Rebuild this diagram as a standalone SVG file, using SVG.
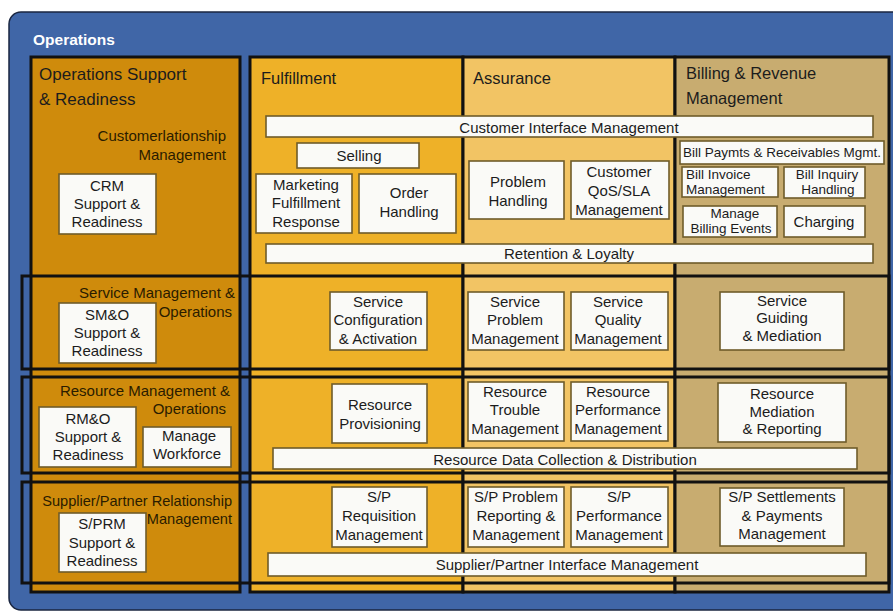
<svg xmlns="http://www.w3.org/2000/svg" width="893" height="612" viewBox="0 0 893 612">
<style>
text{font-family:"Liberation Sans",Arial,sans-serif;fill:#1c1c1c}
.hd{font-size:16.5px}
.lb{font-size:15px;fill:#2a1c00}
.bx{fill:#fafaf7;stroke:#6f5c2a;stroke-width:1.6}
.t{font-size:15px;text-anchor:middle}
.ts{font-size:13.5px}
.tc{font-size:13.5px;text-anchor:middle}
.col{stroke:#111;stroke-width:3}
.row{fill:none;stroke:#111;stroke-width:3}
</style>
<rect x="9" y="12" width="900" height="598" rx="12" fill="#4066A7" stroke="#1a2640" stroke-width="1.5"/>
<text x="33" y="45" style="font-size:15.5px;font-weight:bold;fill:#fff">Operations</text>

<g id="columns">
<rect class="col" x="31" y="57" width="209" height="535" fill="#CF8B0C"/>
<rect class="col" x="250" y="57" width="213" height="535" fill="#EEB128"/>
<rect class="col" x="463" y="57" width="212" height="535" fill="#F2C464"/>
<rect class="col" x="675" y="57" width="214" height="535" fill="#C8AC70"/>
<text class="hd" x="39" y="80" style="font-size:17px">Operations Support</text>
<text class="hd" x="39" y="105" style="font-size:17px">&amp; Readiness</text>
<text class="hd" x="261" y="84">Fulfillment</text>
<text class="hd" x="473" y="84">Assurance</text>
<text class="hd" x="686" y="79">Billing &amp; Revenue</text>
<text class="hd" x="686" y="104">Management</text>
</g>

<g id="rows">
<rect class="row" x="22" y="276" width="867" height="93"/>
<rect class="row" x="22" y="377" width="867" height="96"/>
<rect class="row" x="22" y="482" width="867" height="101"/>
<text class="lb" x="226" y="141" text-anchor="end">Customerlationship</text>
<text class="lb" x="226" y="160" text-anchor="end">Management</text>
<text class="lb" x="235" y="298" text-anchor="end">Service Management &amp;</text>
<text class="lb" x="232" y="317" text-anchor="end">Operations</text>
<text class="lb" x="230" y="396" text-anchor="end">Resource Management &amp;</text>
<text class="lb" x="226" y="414" text-anchor="end">Operations</text>
<text class="lb" x="232" y="506" text-anchor="end" style="font-size:14.6px">Supplier/Partner Relationship</text>
<text class="lb" x="232" y="524" text-anchor="end" style="font-size:14.6px">Management</text>
</g>

<g id="connectors"/>

<g id="crm-support"><rect class="bx" x="59" y="174" width="97" height="60"/>
<text class="t" x="107" y="191">CRM</text><text class="t" x="107" y="209">Support &amp;</text><text class="t" x="107" y="227">Readiness</text></g>

<g id="cim"><rect class="bx" x="266" y="116" width="607" height="21"/>
<text class="t" x="569" y="133">Customer Interface Management</text></g>

<g id="selling"><rect class="bx" x="297" y="143" width="122" height="25"/>
<text class="t" x="359" y="161">Selling</text></g>

<g id="marketing"><rect class="bx" x="256" y="174" width="96" height="59"/>
<text class="t" x="306" y="190">Marketing</text><text class="t" x="306" y="208">Fulfillment</text><text class="t" x="306" y="227">Response</text></g>

<g id="order"><rect class="bx" x="359" y="174" width="97" height="59"/>
<text class="t" x="409" y="198">Order</text><text class="t" x="409" y="217">Handling</text></g>

<g id="problem"><rect class="bx" x="469" y="161" width="95" height="58"/>
<text class="t" x="518" y="187">Problem</text><text class="t" x="518" y="206">Handling</text></g>

<g id="qos"><rect class="bx" x="571" y="161" width="98" height="58"/>
<text class="t" x="619" y="177">Customer</text><text class="t" x="619" y="196">QoS/SLA</text><text class="t" x="619" y="215">Management</text></g>

<g id="billpay"><rect class="bx" x="680" y="141" width="204" height="23"/>
<text class="t" x="782" y="157" style="font-size:13.5px">Bill Paymts &amp; Receivables Mgmt.</text></g>

<g id="billinvoice"><rect class="bx" x="682" y="167" width="96" height="30"/>
<text class="ts" x="686" y="179">Bill Invoice</text><text class="ts" x="686" y="194">Management</text></g>

<g id="billinquiry"><rect class="bx" x="784" y="167" width="81" height="31"/>
<text class="tc" x="827" y="179">Bill Inquiry</text><text class="tc" x="828" y="194">Handling</text></g>

<g id="billevents"><rect class="bx" x="683" y="206" width="94" height="31"/>
<text class="tc" x="735" y="218">Manage</text><text class="tc" x="731" y="233">Billing Events</text></g>

<g id="charging"><rect class="bx" x="784" y="206" width="81" height="31"/>
<text class="t" x="824" y="227">Charging</text></g>

<g id="retention"><rect class="bx" x="266" y="244" width="607" height="19"/>
<text class="t" x="569" y="259">Retention &amp; Loyalty</text></g>

<g id="smo-support"><rect class="bx" x="59" y="303" width="97" height="60"/>
<text class="t" x="107" y="320">SM&amp;O</text><text class="t" x="107" y="338">Support &amp;</text><text class="t" x="107" y="356">Readiness</text></g>

<g id="sca"><rect class="bx" x="330" y="292" width="97" height="58"/>
<text class="t" x="378" y="307">Service</text><text class="t" x="378" y="325">Configuration</text><text class="t" x="378" y="344">&amp; Activation</text></g>

<g id="spm"><rect class="bx" x="468" y="292" width="96" height="58"/>
<text class="t" x="515" y="307">Service</text><text class="t" x="515" y="325">Problem</text><text class="t" x="515" y="344">Management</text></g>

<g id="sqm"><rect class="bx" x="571" y="292" width="97" height="58"/>
<text class="t" x="618" y="307">Service</text><text class="t" x="618" y="325">Quality</text><text class="t" x="618" y="344">Management</text></g>

<g id="sgm"><rect class="bx" x="720" y="292" width="124" height="58"/>
<text class="t" x="782" y="306">Service</text><text class="t" x="782" y="323">Guiding</text><text class="t" x="782" y="341">&amp; Mediation</text></g>

<g id="rmo-support"><rect class="bx" x="39" y="407" width="97" height="60"/>
<text class="t" x="88" y="424">RM&amp;O</text><text class="t" x="88" y="442">Support &amp;</text><text class="t" x="88" y="460">Readiness</text></g>

<g id="workforce"><rect class="bx" x="143" y="427" width="88" height="40"/>
<text class="t" x="189" y="441">Manage</text><text class="t" x="187" y="459">Workforce</text></g>

<g id="rprov"><rect class="bx" x="332" y="384" width="95" height="59"/>
<text class="t" x="380" y="410">Resource</text><text class="t" x="380" y="429">Provisioning</text></g>

<g id="rtm"><rect class="bx" x="468" y="382" width="96" height="59"/>
<text class="t" x="515" y="397">Resource</text><text class="t" x="515" y="415">Trouble</text><text class="t" x="515" y="434">Management</text></g>

<g id="rpm"><rect class="bx" x="571" y="382" width="97" height="59"/>
<text class="t" x="618" y="397">Resource</text><text class="t" x="618" y="415">Performance</text><text class="t" x="618" y="434">Management</text></g>

<g id="rmr"><rect class="bx" x="718" y="383" width="128" height="59"/>
<text class="t" x="782" y="399">Resource</text><text class="t" x="782" y="417">Mediation</text><text class="t" x="782" y="434">&amp; Reporting</text></g>

<g id="rdcd"><rect class="bx" x="273" y="448" width="584" height="21"/>
<text class="t" x="565" y="465">Resource Data Collection &amp; Distribution</text></g>

<g id="sprm-support"><rect class="bx" x="59" y="513" width="87" height="59"/>
<text class="t" x="102" y="529">S/PRM</text><text class="t" x="102" y="548">Support &amp;</text><text class="t" x="102" y="566">Readiness</text></g>

<g id="sp-req"><rect class="bx" x="332" y="487" width="95" height="60"/>
<text class="t" x="379" y="502">S/P</text><text class="t" x="379" y="521">Requisition</text><text class="t" x="379" y="540">Management</text></g>

<g id="sp-prob"><rect class="bx" x="468" y="487" width="96" height="60"/>
<text class="t" x="516" y="502">S/P Problem</text><text class="t" x="516" y="521">Reporting &amp;</text><text class="t" x="516" y="540">Management</text></g>

<g id="sp-perf"><rect class="bx" x="571" y="487" width="97" height="60"/>
<text class="t" x="619" y="502">S/P</text><text class="t" x="619" y="521">Performance</text><text class="t" x="619" y="540">Management</text></g>

<g id="sp-settle"><rect class="bx" x="720" y="488" width="124" height="58"/>
<text class="t" x="782" y="502">S/P Settlements</text><text class="t" x="782" y="521">&amp; Payments</text><text class="t" x="782" y="539">Management</text></g>

<g id="spim"><rect class="bx" x="268" y="553" width="598" height="23"/>
<text class="t" x="567" y="570">Supplier/Partner Interface Management</text></g>
</svg>
